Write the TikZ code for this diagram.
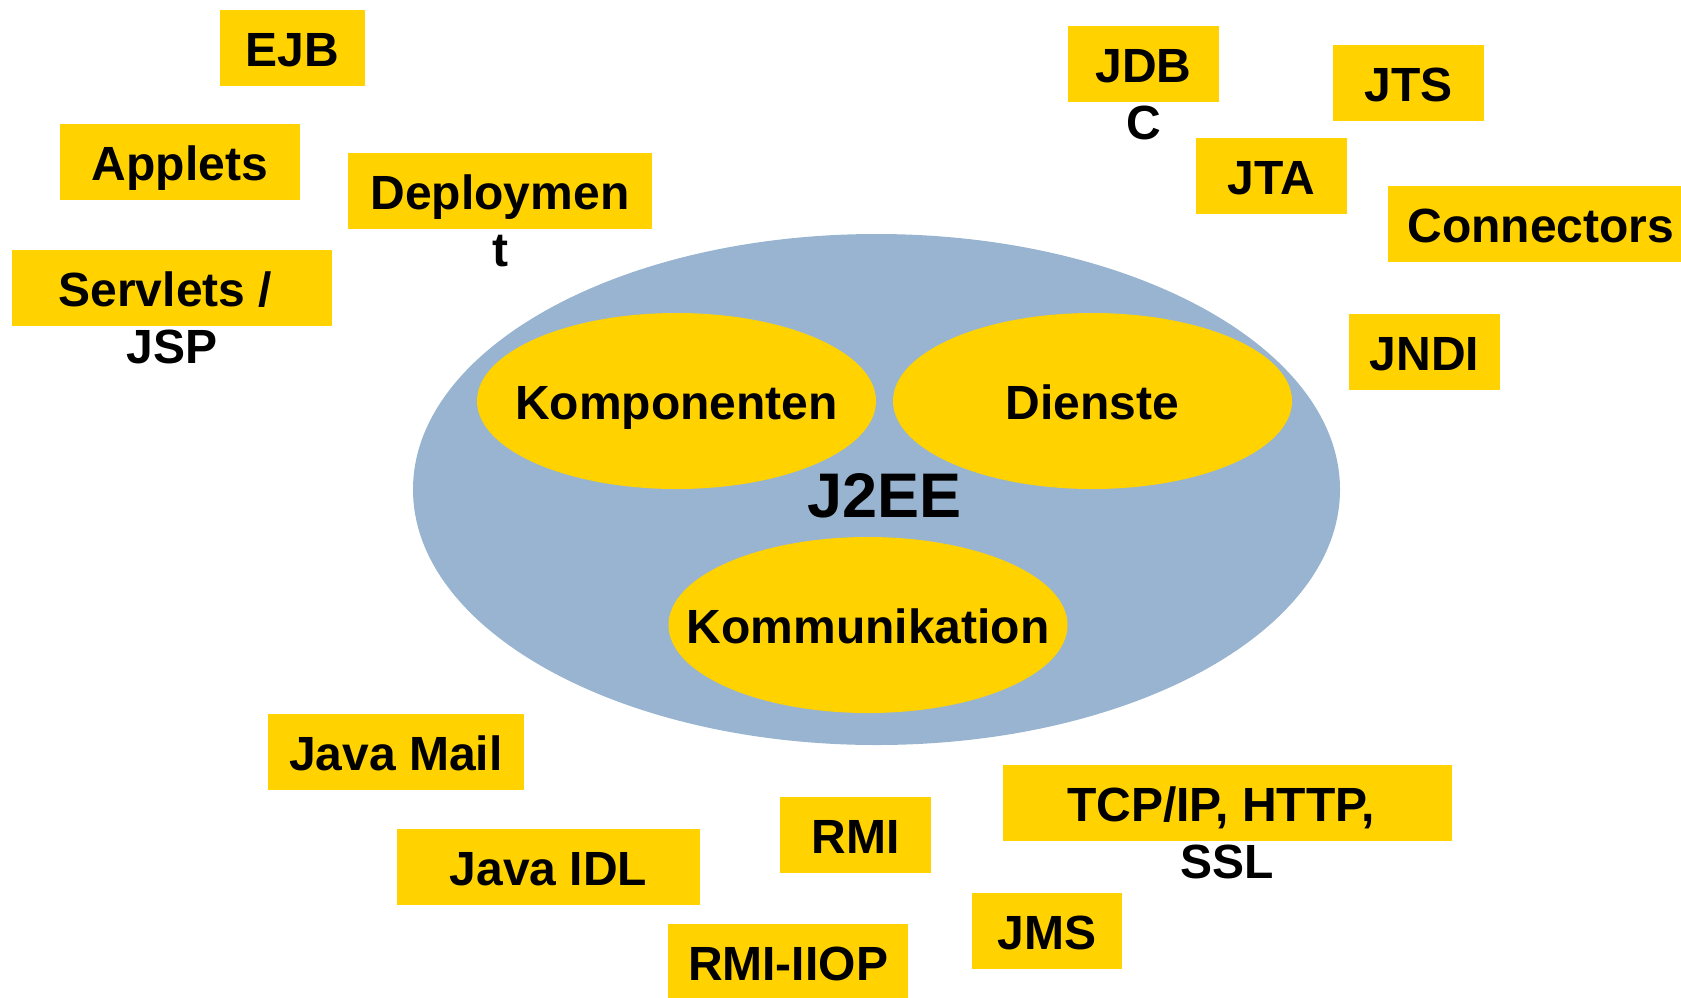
\documentclass[tikz,border=0pt]{standalone}
\usepackage{fontspec}
\setmainfont{Liberation Sans}
\usetikzlibrary{shapes.geometric}
\definecolor{boxyellow}{RGB}{255,210,0}
\definecolor{coreblue}{RGB}{152,180,208}

\begin{document}
\begin{tikzpicture}[x=1pt,y=-1pt,
  lbl/.style={font=\fontsize{48}{57}\selectfont\bfseries, text height=37pt, text depth=0pt, inner sep=0pt},
  tag/.style={lbl, fill=boxyellow, minimum height=76pt, minimum width=#1},
  tag/.default=151pt,
  part/.style={ellipse, fill=boxyellow, minimum width=399pt, minimum height=176pt, inner sep=0pt,
    label={[lbl]center:#1}},
  below line/.style={lbl, yshift=-57pt}
]
\useasboundingbox (0,0) rectangle (1681,997);
\clip (0,0) rectangle (1681,997);

% platform core with its three areas
\node[ellipse, fill=coreblue, minimum width=927pt, minimum height=511pt, inner sep=0pt] (core) at (876.5,489.5) {};
\node[part=Komponenten] (komp) at (676.5,401) {};
\node[part=Dienste] (dienste) at (1092.5,401) {};
\node[part=Kommunikation] (komm) at (868,625) {};
\node[lbl, font=\fontsize{63}{75}\selectfont\bfseries, text height=47pt] (j2ee) at (884.5,494) {J2EE};

% components
\node[tag=145pt] (ejb) at (292.5,48) {EJB};
\node[tag=240pt] (applets) at (180,162) {Applets};
\node[tag=304pt] (deploy) at (500,191) {Deploymen};
\node[below line] (deployrest) at (deploy.center) {t};
\node[tag=320pt] (servlets) at (172,288) {Servlets /\ \ };
\node[below line] (servletsrest) at (servlets.center) {JSP};

% services
\node[tag] (jdbc) at (1143.5,63.5) {JDB};
\node[below line] (jdbcrest) at (jdbc.center) {C};
\node[tag] (jts) at (1408.5,83) {JTS};
\node[tag] (jta) at (1271.5,176) {JTA};
\node[tag=306pt] (connectors) at (1541,223.5) {Connectors};
\node[tag] (jndi) at (1424.5,352) {JNDI};

% communication
\node[tag=256pt] (javamail) at (396,751.5) {Java Mail};
\node[tag=303pt] (javaidl) at (548.5,867) {Java IDL};
\node[tag] (rmi) at (855.5,835) {RMI};
\node[tag=449pt] (tcp) at (1227.5,802.5) {TCP/IP, HTTP,\ \ };
\node[below line] (tcprest) at (tcp.center) {SSL};
\node[tag=150pt] (jms) at (1047,930.5) {JMS};
\node[tag=240pt] (rmiiiop) at (788,962) {RMI-IIOP};
\end{tikzpicture}
\end{document}
